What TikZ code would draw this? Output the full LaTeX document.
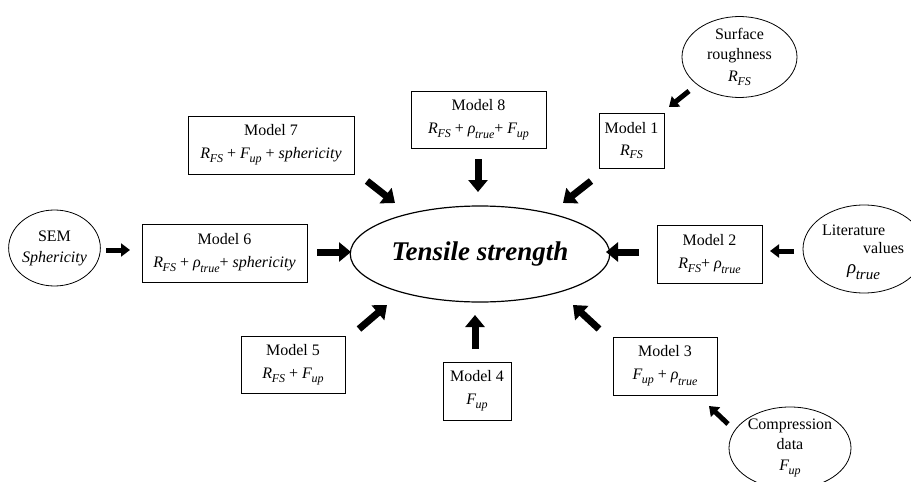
\documentclass[tikz,border=0pt]{standalone}
\usepackage{fontspec}
\setmainfont{Liberation Serif}
\usetikzlibrary{shapes.geometric,arrows.meta}
\newcommand\subsc[1]{\raisebox{-0.24em}{\fontsize{12}{12}\selectfont\textit{#1}}}
\newcommand\RFS{\textit{R}\kern-0.3pt\subsc{FS}}
\newcommand\Fup{\textit{F}\kern-0.5pt\subsc{up}}
\newcommand\rtrue{\textit{ρ}\kern-0.5pt\raisebox{-0.1em}{\subsc{true}}}
\tikzset{
  mbox/.style={draw, line width=0.8pt, inner sep=0pt, align=center,
    font=\fontsize{16}{19}\selectfont},
  src/.style={draw, ellipse, line width=0.8pt, inner sep=0pt, align=center,
    font=\fontsize{16}{20}\selectfont},
  bigarr/.style={line width=7pt, -{Triangle[length=12pt,width=19pt]}},
  smallarr/.style={line width=5pt, -{Triangle[length=9pt,width=13pt]}},
}
\begin{document}
\begin{tikzpicture}[x=1pt,y=-1pt]
\useasboundingbox (0,0) rectangle (911,482);
\clip (0,0) rectangle (911,482);
% central
\node[draw, ellipse, line width=1.2pt, minimum width=230pt, minimum height=96pt,
  font=\fontsize{27}{30}\selectfont\bfseries\itshape] (ts) at (480,254) {Tensile strength};
% model boxes
\node[mbox, minimum width=166pt, minimum height=58pt] (m7) at (271,145) {Model 7\\[4pt] \RFS{} + \Fup{} + \textit{sphericity}};
\node[mbox, minimum width=135pt, minimum height=57pt] (m8) at (478.5,119.5) {Model 8\\[4pt] \RFS{} + \rtrue{}+ \Fup};
\node[mbox, minimum width=65pt, minimum height=55pt] (m1) at (631.5,140.5) {Model 1\\[3pt] \RFS};
\node[mbox, minimum width=105pt, minimum height=58pt] (m2) at (709.5,254) {Model 2\\[4pt] \RFS{}+ \rtrue};
\node[mbox, minimum width=104pt, minimum height=58pt] (m3) at (665,366) {Model 3\\[4pt] \Fup{} + \rtrue};
\node[mbox, minimum width=68pt, minimum height=58pt] (m4) at (477,391) {Model 4\\[4pt] \Fup};
\node[mbox, minimum width=104pt, minimum height=57pt] (m5) at (293,364.5) {Model 5\\[4pt] \RFS{} + \Fup};
\node[mbox, minimum width=165pt, minimum height=58pt] (m6) at (224.5,253) {Model 6\\[4pt] \RFS{} + \rtrue{}+ \textit{sphericity}};
% source ellipses
\node[src, minimum width=115pt, minimum height=70pt] (sr) at (739.5,57) {Surface\\roughness\\[2pt]\RFS};
\node[src, minimum width=85pt, minimum height=76pt] (sem) at (54.5,248) {SEM\\[1pt]\textit{Sphericity}};
\node[src, minimum width=122pt, minimum height=70pt] (cd) at (790,448) {Compression\\data\\[1pt]\Fup};
\node[draw, ellipse, line width=0.8pt, minimum width=122pt, minimum height=88pt] (lit) at (864,249) {};
\node[anchor=west, align=left, inner sep=0pt, font=\fontsize{16}{18}\selectfont] (littext) at (822,252)
  {Literature\\\hspace*{41pt}values\\[2pt]\hspace*{25pt}{\fontsize{19}{19}\selectfont\textit{ρ}\kern-0.5pt\raisebox{-0.3em}{\fontsize{15}{15}\selectfont\textit{true}}}};
% arrow coordinates
\coordinate (a1s) at (106,250);  \coordinate (a1e) at (130,250);
\coordinate (a2s) at (317,252);  \coordinate (a2e) at (351,252);
\coordinate (a3s) at (367,181);  \coordinate (a3e) at (395,203);
\coordinate (a4s) at (478,159);  \coordinate (a4e) at (478,192);
\coordinate (a5s) at (591,181);  \coordinate (a5e) at (563,203);
\coordinate (a6s) at (689,91);   \coordinate (a6e) at (669,107);
\coordinate (a7s) at (639,252);  \coordinate (a7e) at (606,252);
\coordinate (a8s) at (794,251);  \coordinate (a8e) at (770,251);
\coordinate (a9s) at (599,329);  \coordinate (a9e) at (573,305);
\coordinate (a10s) at (728,424); \coordinate (a10e) at (709,406);
\coordinate (a11s) at (475,349); \coordinate (a11e) at (475,315);
\coordinate (a12s) at (359,329); \coordinate (a12e) at (387,305);
\draw[smallarr] (a1s) -- (a1e);
\draw[bigarr] (a2s) -- (a2e);
\draw[bigarr] (a3s) -- (a3e);
\draw[bigarr] (a4s) -- (a4e);
\draw[bigarr] (a5s) -- (a5e);
\draw[smallarr] (a6s) -- (a6e);
\draw[bigarr] (a7s) -- (a7e);
\draw[smallarr] (a8s) -- (a8e);
\draw[bigarr] (a9s) -- (a9e);
\draw[smallarr] (a10s) -- (a10e);
\draw[bigarr] (a11s) -- (a11e);
\draw[bigarr] (a12s) -- (a12e);
\end{tikzpicture}
\end{document}
